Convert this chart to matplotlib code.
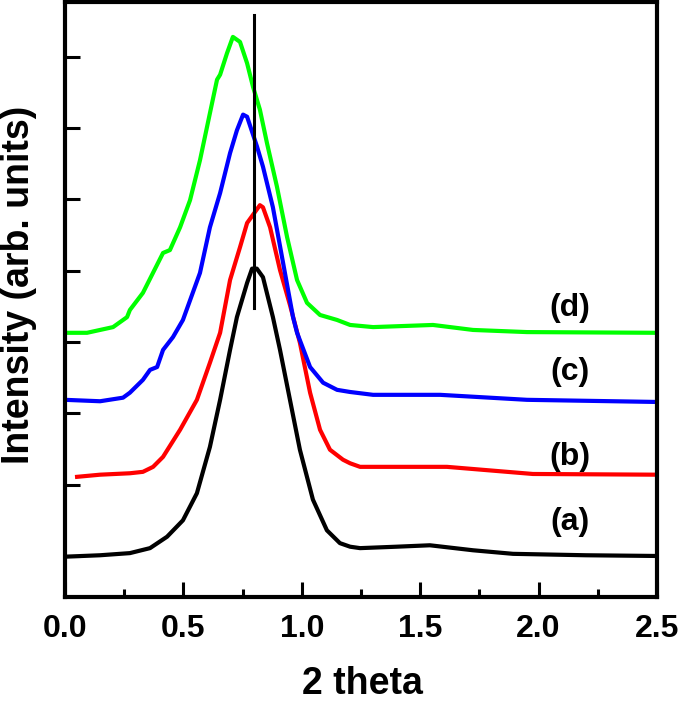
import matplotlib
matplotlib.use('Agg')
import matplotlib.pyplot as plt
from matplotlib.ticker import MultipleLocator, NullFormatter

plt.rcParams['font.family'] = ['Liberation Sans', 'DejaVu Sans']
plt.rcParams['font.weight'] = 'bold'

# (a) black
x_a = [0.0, 0.148, 0.274, 0.359, 0.431, 0.498, 0.557, 0.612, 0.655, 0.697, 0.726,
       0.769, 0.790, 0.810, 0.836, 0.878, 0.908, 0.950, 0.992, 1.047, 1.106, 1.161,
       1.204, 1.246, 1.400, 1.541, 1.723, 1.892, 2.200, 2.5]
y_a = [-0.01, 0.01, 0.04, 0.11, 0.27, 0.50, 0.88, 1.53, 2.19, 2.89, 3.35,
       3.83, 4.03, 4.03, 3.91, 3.35, 2.89, 2.19, 1.49, 0.79, 0.36, 0.18,
       0.13, 0.11, 0.13, 0.15, 0.08, 0.03, 0.01, 0.0]

# (b) red
x_b = [0.051, 0.148, 0.274, 0.329, 0.372, 0.414, 0.486, 0.557, 0.612, 0.655, 0.697,
       0.739, 0.769, 0.823, 0.836, 0.866, 0.908, 0.950, 0.992, 1.035, 1.077, 1.119,
       1.174, 1.204, 1.246, 1.613, 1.976, 2.5]
y_b = [1.11, 1.14, 1.16, 1.18, 1.25, 1.39, 1.77, 2.19, 2.71, 3.13, 3.87,
       4.33, 4.67, 4.92, 4.89, 4.61, 4.01, 3.52, 2.99, 2.29, 1.77, 1.49,
       1.35, 1.30, 1.25, 1.25, 1.15, 1.14]

# (c) blue
x_c = [0.0, 0.148, 0.245, 0.274, 0.329, 0.359, 0.389, 0.414, 0.456, 0.498, 0.570,
       0.612, 0.655, 0.697, 0.726, 0.752, 0.769, 0.811, 0.836, 0.878, 0.921, 0.963,
       0.980, 1.035, 1.090, 1.149, 1.204, 1.301, 1.584, 1.951, 2.5]
y_c = [2.19, 2.17, 2.22, 2.29, 2.47, 2.61, 2.65, 2.89, 3.07, 3.31, 3.97,
       4.61, 5.09, 5.65, 5.97, 6.19, 6.16, 5.74, 5.46, 4.89, 4.11, 3.35,
       3.13, 2.65, 2.43, 2.33, 2.30, 2.26, 2.26, 2.19, 2.16]

# (d) green
x_d = [0.0, 0.093, 0.148, 0.203, 0.262, 0.274, 0.329, 0.414, 0.443, 0.486, 0.528,
       0.570, 0.612, 0.642, 0.655, 0.684, 0.709, 0.739, 0.769, 0.794, 0.823, 0.853,
       0.895, 0.938, 0.980, 1.022, 1.077, 1.149, 1.204, 1.301, 1.554, 1.723, 1.951, 2.5]
y_d = [3.13, 3.13, 3.17, 3.21, 3.35, 3.45, 3.69, 4.25, 4.29, 4.61, 4.99,
       5.55, 6.21, 6.68, 6.75, 7.05, 7.28, 7.21, 6.91, 6.58, 6.26, 5.79,
       5.18, 4.47, 3.87, 3.55, 3.38, 3.31, 3.24, 3.21, 3.24, 3.17, 3.14, 3.13]

series = [(x_a, y_a, 'black'), (x_b, y_b, '#ff0000'),
          (x_c, y_c, '#0000ff'), (x_d, y_d, '#00ff00')]

labels = ['(a)', '(b)', '(c)', '(d)']
label_x = 2.133
label_y = [0.48, 1.39, 2.58, 3.48]

# reference line at the (a) peak
ref_x = 0.798
ref_y = (3.48, 7.59)

fig = plt.figure(figsize=(6.85, 7.01), dpi=100)
ax = fig.add_axes([0.0949, 0.1484, 0.8642, 0.8488])

for xs, ys, c in series:
    ax.plot(xs, ys, color=c, lw=3.0, solid_joinstyle='round')

ax.plot([ref_x, ref_x], ref_y, color='black', lw=2.2)

for lab, ly in zip(labels, label_y):
    ax.text(label_x, ly, lab, ha='center', va='center', fontsize=23, fontweight='bold')

ax.set_xlim(0, 2.5)
ax.set_ylim(-0.575, 7.77)
ax.xaxis.set_major_locator(MultipleLocator(0.5))
ax.xaxis.set_minor_locator(MultipleLocator(0.25))
ax.yaxis.set_major_locator(MultipleLocator(1))
ax.yaxis.set_major_formatter(NullFormatter())

ax.tick_params(axis='both', which='major', direction='in', length=11, width=2.2,
               labelsize=23, pad=12)
ax.tick_params(axis='x', which='minor', direction='in', length=5.5, width=2.2)
for lab in ax.get_xticklabels():
    lab.set_fontweight('bold')

for sp in ax.spines.values():
    sp.set_linewidth(3)

ax.set_xlabel('2 theta', fontsize=27, fontweight='bold')
ax.set_ylabel('Intensity (arb. units)', fontsize=27, fontweight='bold')
ax.xaxis.set_label_coords(0.502, -0.116)
ax.yaxis.set_label_coords(-0.047, 0.524)

fig.savefig('out.png', dpi=100)
